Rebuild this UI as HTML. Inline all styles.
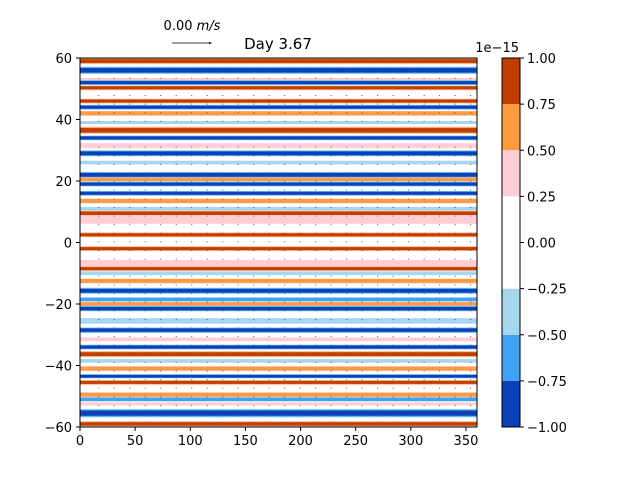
<!DOCTYPE html>
<html><head><meta charset="utf-8"><style>
body{margin:0;background:#fff;font-family:"Liberation Sans","DejaVu Sans",sans-serif;}
svg text{font-family:"DejaVu Sans","Liberation Sans",sans-serif;fill:#000}
</style></head><body>
<svg id="c" width="640" height="480" style="font-size:13px" xmlns="http://www.w3.org/2000/svg"></svg>
<script>
// stripe data: latitude centre, half-width (deg), signed level (-3..3)
const stripeLat =   [59,  56, 53, 52, 50.3, 46, 44, 42, 39, 36.5, 34, 31.5, 29, 26, 22, 20.5, 19, 16, 13.5, 11, 9.5, 7.5, 2.5, -2, -7, -8.5, -10, -12.5, -15.7, -18.5, -20, -21.5, -25.5, -28.5, -31.5, -34, -36.3, -38.5, -41, -43.5, -45.5, -49.5, -51, -52.5, -55.5, -59];
const stripeHalf =  [1.0, 1.2, 0.5, 0.8, 0.8, 0.8, 0.8, 0.8, 0.5, 1.2, 0.8, 0.8, 1.0, 0.6, 1.0, 0.7, 0.8, 0.8, 0.8, 0.6, 0.9, 1.4, 0.8, 0.8, 1.3, 0.8, 0.6, 0.8, 1.0, 0.7, 0.7, 0.9, 0.9, 0.9, 0.6, 0.8, 1.0, 0.6, 0.8, 0.7, 0.8, 0.8, 0.7, 0.5, 1.4, 0.9];
const stripeLevel = [3, -3, 1, -3, 3, 3, -3, 2, -1, 3, -3, 1, -3, -1, -3, 2, -3, -3, 2, -1, 3, 1, 3, 3, 1, 3, -1, 2, -3, -2, 2, -3, -1, -3, 1, -3, 3, -1, 2, -3, 3, 2, -2, 1, -3, 3];
const cbLevels = [-1, -0.75, -0.5, -0.25, 0.25, 0.5, 0.75, 1];
const cbTicks = ["-1.00","-0.75","-0.50","-0.25","0.00","0.25","0.50","0.75","1.00"];
const xTicks = [0,50,100,150,200,250,300,350];
const yTicks = [-60,-40,-20,0,20,40,60];

const NS="http://www.w3.org/2000/svg", svg=document.getElementById('c');
const colors={"-3":"#0b41b8","-2":"#3fa2f2","-1":"#a5d8ee","0":"#ffffff","1":"#fecdd5","2":"#fd9b41","3":"#c03f00"};
const L=80,R=477,T=58,B=427;
const xs=v=>L+(v/360)*(R-L), ys=v=>B-(v+60)/120*(B-T);
function el(t,a,p){const e=document.createElementNS(NS,t);for(const k in a)e.setAttribute(k,a[k]);(p||svg).appendChild(e);return e;}
const plot=el('g',{});


const frac=[1,0.8,0.6];
stripeLat.forEach((lat,i)=>{
  const lv=stripeLevel[i],s=Math.sign(lv),h=stripeHalf[i];
  for(let k=1;k<=Math.abs(lv);k++){
    const hw=h*frac[k-1];
    const r=el('rect',{x:L,width:R-L,y:ys(lat+hw),height:ys(lat-hw)-ys(lat+hw),fill:colors[s*k]},plot);
    
    
  }
});
const dots=el('g',{fill:'#555'});


for(let lon=17;lon<360;lon+=14.05){for(let lat=-58.6;lat<60;lat+=2.8){
  el('rect',{x:xs(lon)-0.5,y:ys(lat)-0.5,width:1,height:1},dots);}}
const ax=el('rect',{x:L,y:T,width:R-L,height:B-T,fill:'none',stroke:'#000','stroke-width':1});


xTicks.forEach(v=>{const x=xs(v);el('line',{x1:x,x2:x,y1:B,y2:B+4,stroke:'#000'});
  const t=el('text',{x:x,y:B+18,'text-anchor':'middle'});t.textContent=v;
  });
yTicks.forEach(v=>{const y=ys(v);el('line',{x1:L-4,x2:L,y1:y,y2:y,stroke:'#000'});
  const t=el('text',{x:L-8,y:y+5,'text-anchor':'end'});t.textContent=v<0?'\u2212'+(-v):v;
  });
const CL=502,CR=520,cy=v=>B-(v+1)/2*(B-T);
const cbCols=["-3","-2","-1","0","1","2","3"];
for(let i=0;i<7;i++){const r=el('rect',{x:CL,width:CR-CL,y:cy(cbLevels[i+1]),height:cy(cbLevels[i])-cy(cbLevels[i+1]),fill:colors[cbCols[i]]});
  }
el('rect',{x:CL,y:T,width:CR-CL,height:B-T,fill:'none',stroke:'#000'});
cbTicks.forEach((s,i)=>{const v=-1+i*0.25,y=cy(v);el('line',{x1:CR,x2:CR+4,y1:y,y2:y,stroke:'#000'});
  const t=el('text',{x:CR+7,y:y+5});t.textContent=s.replace('-','\u2212');
  });
</script>
<svg width="640" height="480" style="position:absolute;left:0;top:0" xmlns="http://www.w3.org/2000/svg">
<text x="519" y="52" text-anchor="end" style="font-size:13px">1e−15</text>
<text x="278" y="49" text-anchor="middle" style="font-size:15px">Day 3.67</text>
<text x="192" y="30" text-anchor="middle" style="font-size:13px">0.00 <tspan font-style="italic">m/s</tspan></text>
<line x1="172" y1="43" x2="209" y2="43" stroke="#000" stroke-width="0.8"/>
<polygon points="209,41.8 212,43 209,44.2" fill="#000"/>
</svg>
</body></html>
